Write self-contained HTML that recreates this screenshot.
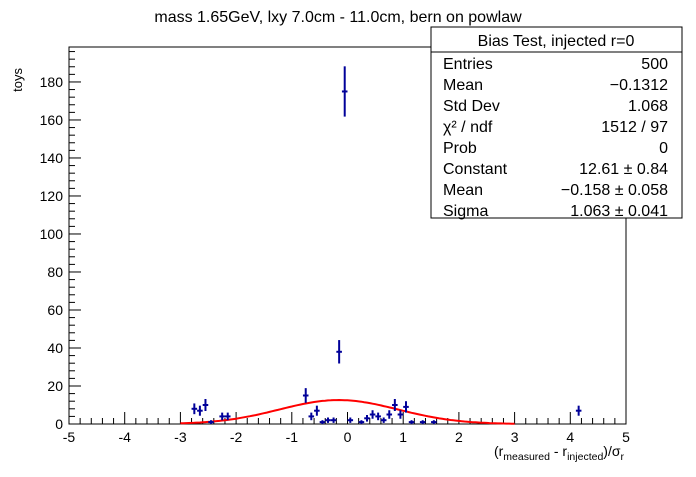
<!DOCTYPE html>
<html><head><meta charset="utf-8"><style>
body{margin:0;background:#fff;font-family:"Liberation Sans",sans-serif}
</style></head><body>
<svg width="696" height="472" xmlns="http://www.w3.org/2000/svg" font-family="Liberation Sans, sans-serif">
<rect width="696" height="472" fill="#fff"/>
<text x="338" y="22" font-size="16" text-anchor="middle">mass 1.65GeV, lxy 7.0cm - 11.0cm, bern on powlaw</text>
<g id="axes"></g>
<g id="fit"></g>
<g id="pts"></g>
<text x="22" y="68" font-size="13" transform="rotate(-90 22 68)" text-anchor="end">toys</text>
<text x="624" y="456" font-size="14" text-anchor="end">(r<tspan font-size="10.5" dy="4">measured</tspan><tspan dy="-4"> - r</tspan><tspan font-size="10.5" dy="4">injected</tspan><tspan dy="-4">)/σ</tspan><tspan font-size="10.5" dy="4">r</tspan></text>
<g font-size="16">
<rect x="431" y="27" width="251" height="191" fill="#fff" stroke="#000"/>
<line x1="431" y1="52" x2="682" y2="52" stroke="#000"/>
<text x="556" y="46" text-anchor="middle">Bias Test, injected r=0</text>
<g id="stats"></g>
</g>
</svg>
<script>
const binCenters=[-2.75,-2.65,-2.55,-2.45,-2.25,-2.15,-0.75,-0.65,-0.55,-0.45,-0.35,-0.25,-0.15,-0.05,0.05,0.25,0.35,0.45,0.55,0.65,0.75,0.85,0.95,1.05,1.15,1.35,1.55,4.15];
const counts=[8,7,10,1,4,4,15,4,7,1,2,2,38,175,2,1,3,5,4,2,5,10,5,9,1,1,1,7];
const fitConst=12.61, fitMean=-0.158, fitSigma=1.063;
const xTicks=[-5,-4,-3,-2,-1,0,1,2,3,4,5];
const yTicks=[0,20,40,60,80,100,120,140,160,180];
const statLabels=["Entries","Mean","Std Dev","χ² / ndf","Prob","Constant","Mean","Sigma"];
const statValues=["500","−0.1312","1.068","1512 / 97","0","12.61 ± 0.84","−0.158 ± 0.058","1.063 ± 0.041"];
const X0=69,X1=626,Y0=424,Y1=47,xmin=-5,xmax=5,ymax=198.4;
const sx=v=>X0+(v-xmin)/(xmax-xmin)*(X1-X0);
const sy=v=>Y0-v/ymax*(Y0-Y1);
const NS="http://www.w3.org/2000/svg";
function mk(p,t,a){const e=document.createElementNS(NS,t);for(const k in a)e.setAttribute(k,a[k]);p.appendChild(e);return e;}
const ax=document.getElementById('axes');
const fr=mk(ax,'rect',{x:X0,y:Y1,width:X1-X0,height:Y0-Y1,fill:'none',stroke:'#000'});


for(let v=xmin;v<=xmax+1e-9;v+=0.2){const r=Math.round(v*5);const len=r%5==0?12:6;mk(ax,'line',{x1:sx(v),x2:sx(v),y1:Y0,y2:Y0-len,stroke:'#000'});}
xTicks.forEach(v=>{const t=mk(ax,'text',{x:sx(v),y:Y0+18,'font-size':14,'text-anchor':'middle'});t.textContent=v;

});
for(let v=0;v<=196;v+=4){const len=v%20==0?12:6;mk(ax,'line',{x1:X0,x2:X0+len,y1:sy(v),y2:sy(v),stroke:'#000'});}
yTicks.forEach(v=>{const t=mk(ax,'text',{x:X0-6,y:sy(v)+5,'font-size':14,'text-anchor':'end'});t.textContent=v;

});
let d='';for(let i=0;i<=120;i++){const x=-3+i*0.05;const y=fitConst*Math.exp(-0.5*((x-fitMean)/fitSigma)**2);d+=(i?'L':'M')+sx(x).toFixed(1)+','+sy(y).toFixed(1);}
const fc=mk(document.getElementById('fit'),'path',{d:d,fill:'none',stroke:'#ff0000','stroke-width':2});


const pg=document.getElementById('pts');
binCenters.forEach((c,i)=>{const n=counts[i],e=Math.sqrt(n);const g=mk(pg,'g',{stroke:'#000099','stroke-width':2});


mk(g,'line',{x1:sx(c-0.05),x2:sx(c+0.05),y1:sy(n),y2:sy(n)});
mk(g,'line',{x1:sx(c),x2:sx(c),y1:sy(n+e),y2:sy(Math.max(0,n-e))});});
const st=document.getElementById('stats');
statLabels.forEach((l,i)=>{const y=69+i*21;
const a=mk(st,'text',{x:443,y:y});a.textContent=l;


const b=mk(st,'text',{x:668,y:y,'text-anchor':'end'});b.textContent=statValues[i];

});
</script>
</body></html>
